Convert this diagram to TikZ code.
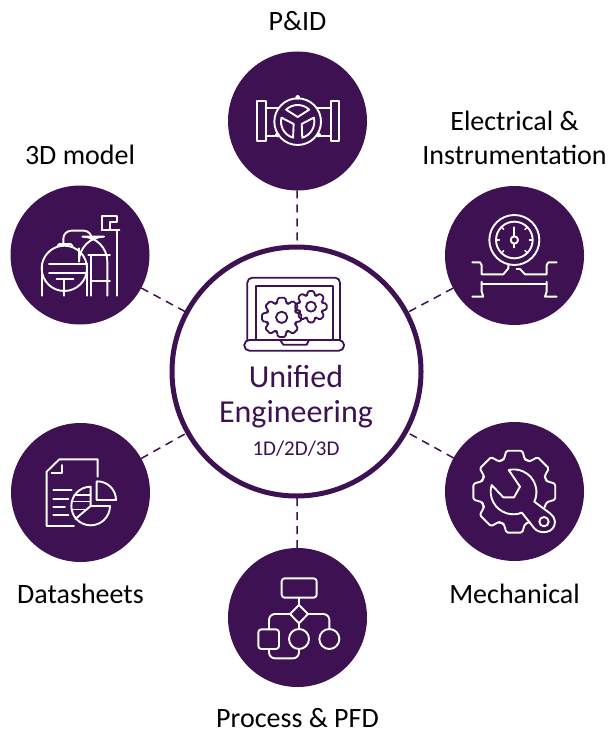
\documentclass[tikz,border=0pt]{standalone}
\usepackage{fontspec}
\setmainfont{Carlito}
\usepackage{tikz}
\usetikzlibrary{positioning,calc}
\definecolor{uepurple}{HTML}{3D1152}
\tikzset{
  spoke/.style={circle,fill=uepurple,minimum size=139pt,inner sep=0pt,outer sep=0pt},
  hubring/.style={circle,draw=uepurple,fill=white,line width=5pt,minimum size=249pt,inner sep=0pt,outer sep=0pt},
  link/.style={draw=uepurple,line width=1.5pt,dash pattern=on 8pt off 6pt},
  caption/.style={text=black,font=\fontsize{28}{34}\selectfont,align=center,inner sep=0pt},
  icon/.style={draw=white,line width=1.9pt,line join=round,line cap=round},
  thin icon/.style={draw=white,line width=1.3pt,line join=round,line cap=round},
  hubicon/.style={draw=uepurple,line width=1.8pt,line join=round,line cap=round}
}
% one tooth per angle, drawn around the centre #2
\newcommand{\cogteeth}[5]{
  \begin{scope}[shift={#2}]
    \foreach \a in {#5} {
      \draw[#1,rounded corners=1.5pt] (\a+27:#4) -- (\a+18:#4) -- (\a+11:#3) -- (\a-11:#3) -- (\a-18:#4) -- (\a-27:#4);
    }
  \end{scope}
}
\begin{document}
\begin{tikzpicture}[x=1pt,y=1pt,yscale=-1]
  \useasboundingbox (0,0) rectangle (611,733);

  \node[hubring] (hub) at (296.5,371.5) {};
  \node[spoke] (pid) at (297.5,121) {};
  \node[spoke] (model) at (80,255) {};
  \node[spoke] (elec) at (514.5,255.5) {};
  \node[spoke] (mech) at (514.5,491.5) {};
  \node[spoke] (pfd) at (297.5,617.5) {};
  \node[spoke] (sheets) at (80.5,492.5) {};

  \draw[link] (pid) -- (hub);
  \draw[link] (model) -- (hub);
  \draw[link] (elec) -- (hub);
  \draw[link] (mech) -- (hub);
  \draw[link] (pfd) -- (hub);
  \draw[link] (sheets) -- (hub);

  \node[caption] (pidtext) [above=21pt of pid] {P\&ID};
  \node[caption] (modeltext) [above=21pt of model] {3D model};
  \node[caption] (electext) [above=21pt of elec] {Electrical \&\\Instrumentation};
  \node[caption] (mechtext) [below=23pt of mech] {Mechanical};
  \node[caption] (pfdtext) [below=21.5pt of pfd] {Process \& PFD};
  \node[caption] (sheetstext) [below=22pt of sheets] {Datasheets};

  \node[text=uepurple,font=\fontsize{32}{34}\selectfont,inner sep=0pt] (unified) at (296,377) {Unified};
  \node[text=uepurple,font=\fontsize{32}{34}\selectfont,inner sep=0pt] (engineering) [below=12pt of unified] {Engineering};
  \node[text=uepurple,font=\fontsize{21}{23}\selectfont,inner sep=0pt] (dims) [below=12pt of engineering] {1D/2D/3D};

  % laptop
  \begin{scope}[shift={(165,240)},scale=1/3]
    \draw[hubicon,rounded corners=5pt] (247,300) -- (247,113) -- (525,113) -- (525,300);
    \draw[hubicon] (272,300) -- (272,137) -- (503,137) -- (503,300);
    \draw[hubicon,rounded corners=5pt] (238,300) -- (537,300) -- (537,332) -- (238,332) -- cycle;
    \draw[hubicon] (345,300) -- (355,314) -- (425,314) -- (432,300);
    \cogteeth{hubicon}{(350,232)}{60}{45}{0,45,...,315}
    \cogteeth{hubicon}{(438,200)}{48}{36}{0,45,...,315}
    \draw[hubicon] (350,232) circle (17);
    \draw[hubicon] (438,200) circle (15);
  \end{scope}

  % valve
  \begin{scope}[shift={(220,40)},scale=1/3]
    \draw[icon] (110,183) rectangle (137,303);
    \draw[icon] (333,183) rectangle (358,303);
    \draw[icon] (137,203) -- (187,203);
    \draw[icon] (137,288) -- (165,288);
    \draw[icon] (280,203) -- (333,203);
    \draw[icon] (302,288) -- (333,288);
    \draw[icon,fill=uepurple] (233,245) circle (70);
    \fill[white] (233,172) circle (7);
    \fill[white] (172,285) circle (7);
    \fill[white] (296,285) circle (7);
    \foreach \a in {30,150,270} {
      \draw[icon] ($(233,245)+(\a+44:50)$) arc[start angle=\a+44,end angle=\a-44,radius=50] -- ($(233,245)+(\a:14)$) -- cycle;
    }
  \end{scope}

  % plant
  \begin{scope}[shift={(0,180)},scale=1/3]
    \draw[icon] (193,265) circle (68);
    \draw[icon] (172,199) -- (178,192) -- (212,192) -- (218,199);
    \draw[icon] (125,253) -- (125,347);
    \draw[icon] (262,253) -- (262,347);
    \draw[icon] (147,253) -- (262,253);
    \draw[icon] (147,280) -- (262,280);
    \draw[icon] (170,298) -- (220,298);
    \draw[icon] (193,298) -- (193,347);
    \draw[icon,rounded corners=8pt] (190,190) -- (190,152) -- (275,152) -- (275,172);
    \draw[icon,rounded corners=25pt] (237,205) -- (237,170) -- (322,170) -- (322,347);
    \draw[icon] (265,225) -- (330,225);
    \draw[icon] (272,303) -- (330,303);
    \draw[icon] (272,225) -- (272,347);
    \draw[icon] (350,150) -- (350,347);
    \draw[icon] (305,150) -- (358,150);
    \draw[icon] (330,150) -- (330,125) -- (350,125) -- (350,108) -- (305,108) -- (305,150);
  \end{scope}

  % gauge
  \begin{scope}[shift={(440,185)},scale=1/3]
    \draw[icon] (223,165) circle (75);
    \draw[icon] (223,165) circle (55);
    \draw[icon] (223,165) circle (11);
    \draw[icon] (223,127) -- (223,152);
    \draw[icon] (223,178) -- (223,187);
    \foreach \a in {0,45,135,180,225,315} {
      \draw[thin icon] (223,165) ++(\a:45) -- ++(\a:10);
    }
    \draw[icon] (97,232) -- (120,232) -- (125,240) -- (125,268) -- (190,268) -- (205,250) -- (205,240);
    \draw[icon] (350,232) -- (325,232) -- (320,240) -- (320,268) -- (255,268) -- (240,252) -- (230,252);
    \draw[icon] (125,298) -- (320,298);
    \draw[icon] (125,290) -- (125,320) -- (130,335) -- (97,335);
    \draw[icon] (320,290) -- (320,320) -- (315,335) -- (350,335);
  \end{scope}

  % gear and spanner
  \begin{scope}[shift={(440,420)},scale=1/3]
    \cogteeth{icon}{(223,215)}{125}{102}{0,-45,-90,-135,180,135,90}
    \draw[icon] (155,195) arc[start angle=197,end angle=68,radius=68]
      -- (283,325) .. controls (300,345) and (345,340) .. (345,305) .. controls (345,295) and (340,290) .. (330,280) -- (283,245)
      arc[start angle=25,end angle=-103,radius=68] -- (240,200) -- (222,232) -- (190,232) -- cycle;
    \draw[icon] (312,305) circle (14);
  \end{scope}

  % flow chart
  \begin{scope}[shift={(220,550)},scale=1/3]
    \draw[icon,rounded corners=3pt] (185,85) rectangle (290,143);
    \draw[icon] (237,143) -- (237,165);
    \draw[icon] (237,165) -- (264,192) -- (237,220) -- (210,192) -- cycle;
    \draw[icon,rounded corners=6pt] (210,192) -- (147,192) -- (147,238);
    \draw[icon,rounded corners=3pt] (115,238) rectangle (177,297);
    \draw[icon,rounded corners=6pt] (147,297) -- (147,325) -- (237,325) -- (237,297);
    \draw[icon] (237,267) circle (30);
    \draw[icon] (237,220) -- (237,237);
    \draw[icon,rounded corners=6pt] (264,192) -- (328,192) -- (328,238);
    \draw[icon] (328,267) circle (30);
  \end{scope}

  % data sheet
  \begin{scope}[shift={(0,420)},scale=1/3]
    \draw[icon] (222,318) -- (140,318) -- (140,155) -- (178,118) -- (293,118) -- (293,170);
    \draw[icon] (185,135) -- (185,160) -- (155,160);
    \draw[icon] (160,210) -- (215,210);
    \draw[icon] (160,237) -- (205,237);
    \draw[icon] (160,262) -- (195,262);
    \draw[icon] (160,285) -- (205,285);
    \draw[icon] (272,200) arc[start angle=-90,end angle=-360,radius=58] -- (272,258) -- cycle;
    \draw[icon] (272,258) -- (226,297);
    \draw[thin icon] (222,225) -- (272,225);
    \draw[thin icon] (214,245) -- (272,245);
    \draw[thin icon] (214,268) -- (258,268);
    \draw[icon] (290,185) -- (290,240) -- (348,240) arc[start angle=0,end angle=-90,radius=56] -- cycle;
  \end{scope}
\end{tikzpicture}
\end{document}
